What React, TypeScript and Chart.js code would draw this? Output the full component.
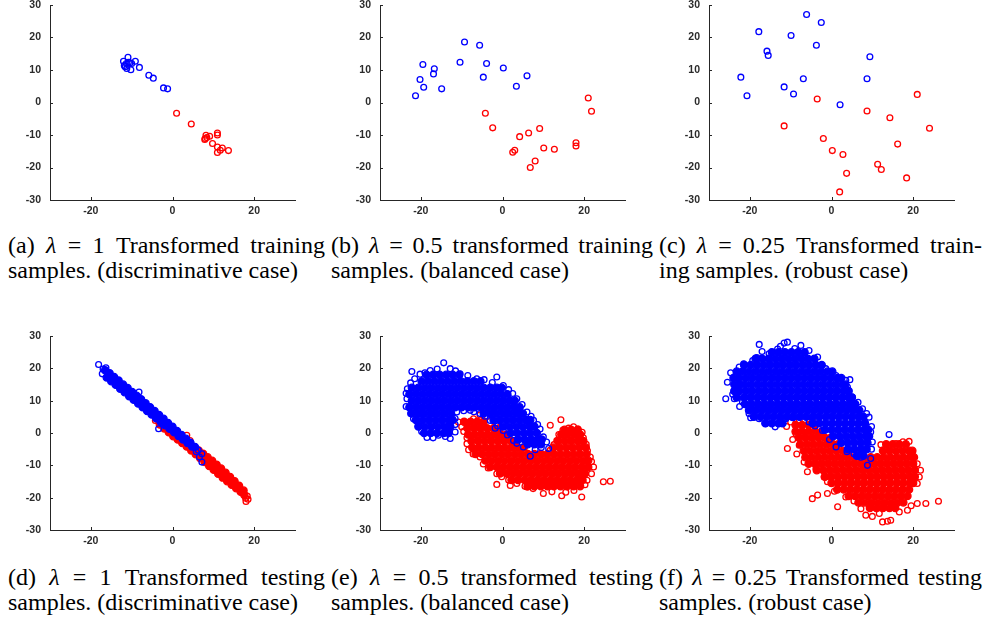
import React, { useEffect, useRef } from 'react';
import { Chart, registerables } from 'chart.js';

Chart.register(...registerables);

type P = [number, number];
type Row = [number, number[]];

// ---------- axis settings ----------
const AXIS_MIN = -30;
const AXIS_MAX = 30;
const X_TICKS = [-20, 0, 20];
const Y_TICKS = [-30, -20, -10, 0, 10, 20, 30];

const BLUE = '#0000ff';
const RED = '#ff0000';
const AXIS_COLOR = '#262626';

// ---------- captions ----------
const CAPTION_TAGS = ['(a)', '(b)', '(c)', '(d)', '(e)', '(f)'];
const CAPTION_LAMBDA = ['1', '0.5', '0.25', '1', '0.5', '0.25'];
const CAPTION_REST1 = [
  'Transformed training',
  'transformed training',
  'Transformed train-',
  'Transformed testing',
  'transformed testing',
  'Transformed testing',
];
const CAPTION_LINE2 = [
  'samples. (discriminative case)',
  'samples. (balanced case)',
  'ing samples. (robust case)',
  'samples. (discriminative case)',
  'samples. (balanced case)',
  'samples. (robust case)',
];

// ---------- (a) training, lambda = 1 ----------
const aBlue: P[] = [
  [-12.0, 12.7], [-10.9, 13.9], [-11.3, 12.0], [-10.4, 12.2], [-10.0, 12.0], [-9.1, 12.7],
  [-11.6, 11.0], [-11.2, 10.5], [-10.2, 10.1], [-8.1, 10.8], [-5.8, 8.4], [-4.7, 7.5],
  [-2.2, 4.5], [-1.2, 4.2], [-11.8, 11.4], [-10.8, 12.4],
];
const aRed: P[] = [
  [1.0, -3.3], [4.6, -6.6], [8.2, -10.1], [8.0, -11.1], [8.4, -10.8], [9.1, -10.4],
  [11.0, -9.4], [11.0, -10.0], [9.8, -12.6], [11.0, -13.7], [12.2, -14.0], [11.7, -14.7],
  [11.0, -15.4], [13.7, -14.8], [7.9, -11.4],
];

// ---------- (b) training, lambda = 0.5 ----------
const bBlue: P[] = [
  [-19.5, 11.7], [-21.3, 2.1], [-20.2, 7.1], [-19.3, 4.7], [-16.7, 10.4], [-16.9, 8.8],
  [-14.9, 4.2], [-10.4, 12.4], [-9.3, 18.6], [-5.6, 17.6], [-3.9, 12.0], [-4.7, 7.8],
  [0.2, 10.6], [3.4, 5.0], [6.0, 8.2],
];
const bRed: P[] = [
  [-4.2, -3.3], [-2.4, -7.8], [2.5, -15.3], [3.0, -14.7], [4.2, -10.5], [6.4, -9.4],
  [9.1, -8.0], [6.8, -20.0], [8.0, -18.0], [10.1, -14.0], [12.7, -14.4], [18.0, -13.4],
  [18.0, -12.4], [21.0, 1.4], [21.8, -2.7],
];

// ---------- (c) training, lambda = 0.25 ----------
const cBlue: P[] = [
  [-17.8, 21.8], [-22.2, 7.8], [-20.7, 2.1], [-15.8, 15.8], [-15.5, 14.5], [-9.9, 20.6],
  [-6.1, 27.1], [-2.5, 24.6], [-3.7, 17.6], [-11.6, 4.8], [-9.3, 2.6], [-6.9, 7.3],
  [2.1, -0.7], [9.4, 14.1], [8.7, 7.3],
];
const cRed: P[] = [
  [-11.6, -7.2], [-3.5, 1.1], [-2.0, -11.1], [0.2, -14.8], [2.8, -16.0], [3.7, -21.8],
  [2.0, -27.5], [8.7, -2.6], [14.3, -4.7], [21.0, 2.5], [24.0, -7.9], [16.2, -12.8],
  [11.3, -19.0], [12.2, -20.6], [18.4, -23.2],
];

// ---------- (d) testing, lambda = 1 ----------
const dBlueCore: P[] = [
  [-16.5, 19.4], [-16.1, 17.2], [-15.4, 18.5], [-15.0, 16.0], [-14.3, 17.3], [-13.9, 14.9],
  [-13.2, 16.2], [-12.8, 13.7], [-12.1, 15.0], [-11.7, 12.6], [-11.0, 13.9], [-10.6, 11.4],
  [-9.9, 12.7], [-9.5, 10.3], [-8.8, 11.5], [-8.4, 9.1], [-7.7, 10.4], [-7.3, 8.0],
  [-6.6, 9.2], [-6.2, 6.8], [-5.5, 8.0], [-5.1, 5.7], [-4.4, 6.8], [-4.0, 4.6],
  [-3.3, 5.6], [-2.9, 3.5], [-2.2, 4.4], [-1.8, 2.4], [-1.1, 3.1], [-0.7, 1.3],
  [0, 1.9], [0.4, 0.2], [1.1, 0.6], [1.5, -0.9], [2.2, -0.6], [2.6, -2.0],
  [3.3, -1.8], [3.7, -3.1], [4.4, -3.0], [4.8, -4.2], [5.5, -4.3],
];
const dBlueRing: P[] = [
  [-18.1, 21.2], [-17.0, 19.8], [-17.2, 18.3], [-16.3, 20.2], [-8.2, 12.7], [-3.4, 1.3],
  [6.3, -5.3], [6.6, -7.4], [7.2, -6.4], [7.2, -9.0], [5.8, -5.8],
];
const dRedCore: P[] = [
  [-3.5, 4.2], [-3.1, 2.6], [-2.4, 3.0], [-2.0, 1.4], [-1.3, 1.8], [-0.9, 0.2],
  [-0.2, 0.6], [0.2, -1.0], [0.9, -0.6], [1.3, -2.0], [2.0, -1.6], [2.4, -3.1],
  [3.1, -2.6], [3.5, -4.2], [4.2, -3.6], [4.6, -5.4], [5.3, -4.6], [5.7, -6.6],
  [6.4, -5.4], [6.8, -7.8], [6.6, -6.5], [7.5, -6.4], [7.9, -9.0], [7.7, -7.7],
  [8.6, -7.5], [9.0, -10.2], [8.8, -8.9], [9.7, -8.6], [10.1, -11.4], [9.9, -10.0],
  [10.8, -9.8], [11.2, -12.6], [11.0, -11.2], [11.9, -11.0], [12.3, -13.8], [12.1, -12.4],
  [13.0, -12.3], [13.4, -14.9], [13.2, -13.6], [14.1, -13.6], [14.5, -16.0], [15.2, -14.9],
  [15.6, -17.1], [16.3, -16.3], [16.7, -18.2], [17.4, -17.8], [17.6, -19.2],
];
const dRedRing: P[] = [
  [3.5, -0.7], [4.3, -2.3], [6.4, -5.9], [18.3, -19.5], [18.0, -21.2], [18.5, -20.5],
  [-4.2, 3.9], [17.9, -20.2],
];

// ---------- (e) testing, lambda = 0.5 ----------
const eBlueCore: Row[] = [
  [18, [-18.6, -17, -15.4, -13.8, -12.2, -10.6]],
  [16, [-19.8, -18.2, -16.6, -15, -13.4, -11.8, -10.2, -8.6, -7, -5.4]],
  [14, [-22.2, -20.6, -19, -17.4, -15.8, -14.2, -12.6, -11, -9.4, -7.8, -6.2, -4.6, -3, -1.4, -0.2]],
  [12, [-22.8, -21.2, -19.6, -18, -16.4, -14.8, -13.2, -11.6, -10, -8.4, -6.8, -5.2, -3.6, -2, -0.4, 1.2]],
  [10, [-22.2, -20.6, -19, -17.4, -15.8, -14.2, -12.6, -11, -9.4, -7.8, -6.2, -4.6, -3, -1.4, 0.2, 1.8, 3.0]],
  [8, [-22.8, -21.2, -19.6, -18, -16.4, -14.8, -13.2, -11.6, -10, -8.4, -6.8, -5.2, -3.6, -2, -0.4, 1.2, 2.8, 4.2]],
  [6, [-22.2, -20.6, -19, -17.4, -15.8, -14.2, -12.6, -4.6, -3, -1.4, 0.2, 1.8, 3.4, 5.0]],
  [4, [-21.2, -19.6, -18, -16.4, -14.8, -13.2, -12.2, -2.2, -0.6, 1, 2.6, 4.2, 5.8, 6.8]],
  [2, [-20.6, -19, -17.4, -15.8, -14.2, -12.8, 0.2, 1.8, 3.4, 5, 6.6, 7.8]],
  [0, [-19.2, -17.6, -16, -14.4, -13.2, 2, 3.6, 5.2, 6.8, 8.4]],
  [-2, [3.8, 5.4, 7, 8.6, 9.6]],
  [-3.5, [6.2, 7.8, 9.4]],
];
const eBlueRing: P[] = [
  [-22.2, 19.0], [-14.4, 21.7], [-17.7, 19.3], [-16, 19.8], [-12.8, 19.9], [-11.5, 19.2],
  [-10.4, 18.3], [-8.5, 17.8], [-6.3, 16.8], [-4.5, 16.5], [-1.4, 17.3], [-2.5, 15.6],
  [0.2, 14.7], [1.5, 13.4], [2.5, 12.2], [3.5, 10.6], [4.8, 8.8], [6.0, 6.5], [7.0, 5.2],
  [7.6, 3.9], [8.6, 2.6], [9.2, 1.2], [10, -1.2], [10.8, -2.8], [11.3, -4.8], [9.5, -4.5],
  [8, -5.2], [6.8, -7.2], [5.1, -4.3], [3.5, -3.2], [2.7, -2.3], [1.2, -0.6], [0.2, 0.8],
  [-1.2, 2.2], [-3.0, 3.9], [-4.3, 5.2], [-5.5, 6.0], [-7, 6.6], [-7.9, 7.0], [-9.5, 6.9],
  [-11.2, 6.5], [-11.6, 4.5], [-11.6, 2.6], [-11.6, 0.3], [-12.8, -1.7], [-14, -1.1],
  [-15.7, -0.7], [-17, -1.5], [-18.5, -1.4], [-19.8, 0.5], [-20.5, 2.2], [-21.8, 4.4],
  [-22.5, 6], [-23.6, 8.2], [-23.4, 10.6], [-23.6, 12.3], [-23.3, 13.7], [-22.5, 15.5],
  [-21.5, 16.8], [-20.2, 18.2], [-19, 18.6], [-1.8, 1.5],
];
const eRedCore: Row[] = [
  [3.5, [-9.4, -7.8, -6.2, -4.6]],
  [1.5, [-8.6, -7, -5.4, -3.8, -2.2, -0.8]],
  [1, [15.2, 16.8, 18.4]],
  [-0.5, [-8.4, -6.8, -5.2, -3.6, -2, -0.4, 1.0, 14.4, 16, 17.6, 19]],
  [-2.5, [-7.6, -6, -4.4, -2.8, -1.2, 0.4, 2, 3.2, 13.6, 15.2, 16.8, 18.4, 19.8]],
  [-4.5, [-7.4, -5.8, -4.2, -2.6, -1, 0.6, 2.2, 3.8, 5.2, 12.4, 14, 15.6, 17.2, 18.8, 20.4]],
  [-6.5, [-6.6, -5, -3.4, -1.8, -0.2, 1.4, 3, 4.6, 6.2, 7.8, 9.4, 11, 12.6, 14.2, 15.8, 17.4, 19, 20.6]],
  [-8.5, [-4.2, -2.6, -1, 0.6, 2.2, 3.8, 5.4, 7, 8.6, 10.2, 11.8, 13.4, 15, 16.6, 18.2, 19.8, 21]],
  [-10.5, [-3, -1.4, 0.2, 1.8, 3.4, 5, 6.6, 8.2, 9.8, 11.4, 13, 14.6, 16.2, 17.8, 19.4, 21]],
  [-12.5, [-0.6, 1, 2.6, 4.2, 5.8, 7.4, 9, 10.6, 12.2, 13.8, 15.4, 17, 18.6, 20.2]],
  [-14.5, [2.2, 3.8, 5.4, 7, 8.6, 10.2, 11.8, 13.4, 15, 16.6, 18.2, 19.6]],
  [-16.5, [6.2, 7.8, 9.4, 11, 12.6, 14.2, 15.8, 17.4, 19]],
];
const eRedRing: P[] = [
  [-10.8, 3.4], [-10, 1.9], [-9.5, 0.5], [-8.7, -1.5], [-8.7, -3.3], [-8.3, -5.2],
  [-7.2, -6.5], [-5.5, -7.4], [-4.7, -9.6], [-3.5, -10.8], [-1.4, -12.6], [-0.2, -13.5],
  [1.5, -14.5], [3.5, -15.6], [5.5, -16.5], [-1.4, -15.9], [1.9, -16.2], [6, -16.7],
  [7.5, -17.2], [10, -18.7], [12.1, -18.2], [14.5, -19.4], [15.5, -18.3], [17.5, -17.8],
  [19.4, -19.8], [20.2, -16], [20.7, -14.6], [21.8, -12.6], [22.3, -10.5], [21.8, -8.8],
  [21.5, -7.4], [20.8, -5.5], [20.5, -3.5], [19.8, -1.5], [19.5, 0.2], [18.5, 1.2],
  [17.4, 1.9], [16.2, 1.5], [14.8, 0.9], [13.8, -0.5], [13.3, -2.3], [12.6, -3.6],
  [11.7, -5.3], [11.7, 2.4], [14.3, 4.1], [24.7, -15.1], [26.4, -14.9], [-7.1, 4.4],
  [-5.5, 5.6], [-3.8, 5.1],
];

// ---------- (f) testing, lambda = 0.25 ----------
const fBlueCore: Row[] = [
  [25, [-14.6, -13, -11.4, -9.8, -8.2, -6.6]],
  [23, [-18.6, -17, -15.4, -13.8, -12.2, -10.6, -9, -7.4, -5.8, -4.2]],
  [21, [-21.4, -19.8, -18.2, -16.6, -15, -13.4, -11.8, -10.2, -8.6, -7, -5.4, -3.8, -2.4]],
  [19, [-23.2, -21.8, -20.2, -18.6, -17, -15.4, -13.8, -12.2, -10.6, -9, -7.4, -5.8, -4.2, -2.6, -1, 0.2]],
  [17, [-24, -22.6, -21, -19.4, -17.8, -16.2, -14.6, -13, -11.4, -9.8, -8.2, -6.6, -5, -3.4, -1.8, -0.2, 1.4, 2.4]],
  [15, [-23.8, -22.6, -21.4, -19.8, -18.2, -16.6, -15, -13.4, -11.8, -10.2, -8.6, -7, -5.4, -3.8, -2.2, -0.6, 1, 2.6, 3.4]],
  [13, [-23.8, -22.6, -21, -19.4, -17.8, -16.2, -14.6, -13, -11.4, -9.8, -8.2, -6.6, -5, -3.4, -1.8, -0.2, 1.4, 3, 4.2]],
  [11, [-23.2, -21.4, -19.8, -18.2, -16.6, -15, -13.4, -11.8, -10.2, -8.6, -7, -5.4, -3.8, -2.2, -0.6, 1, 2.6, 4.2, 5]],
  [9, [-21.2, -19.6, -18, -16.4, -14.8, -13.2, -11.6, -10, -8.4, -6.8, -5.2, -3.6, -2, -0.4, 1.2, 2.8, 4.4, 5.8]],
  [7, [-20.2, -18.6, -17, -15.4, -13.8, -12.2, -10.6, -9, -7.4, -5.8, -4.2, -2.6, -1, 0.6, 2.2, 3.8, 5.4, 6.8]],
  [5, [-19, -17.4, -15.8, -14.2, -12.6, -11, -9.4, -7.8, -6.2, -4.6, -3, -1.4, 0.2, 1.8, 3.4, 5, 6.6, 7.8]],
  [3, [-16.2, -14.6, -13, -12, -4.6, -3, -1.4, 0.2, 1.8, 3.4, 5, 6.6, 8.2]],
  [1, [-1.6, 0, 1.6, 3.2, 4.8, 6.4, 8, 9]],
  [-1, [0.4, 2, 3.6, 5.2, 6.8, 8.4, 9.2]],
  [-3, [2.4, 4, 5.6, 7.2, 8.8]],
  [-5, [4, 5.6, 7.2, 8.6]],
  [-7, [6.2, 7.8]],
];
const fBlueRing: P[] = [
  [-17.7, 27.4], [-11.6, 27.8], [-10.8, 28.1], [-7.5, 27.1], [-13.2, 26.0], [-15.3, 24.5],
  [-12.5, 26.8], [-17, 25.2], [-19.3, 22.4], [-21.5, 21.4], [-18.3, 23.3], [-22.6, 20.4],
  [-24.7, 18.6], [-25.5, 15.7], [-25.9, 10.6], [-23.8, 10.6], [-23.6, 13.7], [-24.2, 12],
  [-21.8, 9.6], [-22.5, 8.2], [-20.2, 6.0], [-19.8, 4.7], [-17.7, 4.4], [-16.1, 2.9],
  [-13.8, 1.9], [-12.8, 2.9], [-11.2, 4.4], [-9.5, 4.7], [-3.4, 23.5], [-5.5, 25.5],
  [-9, 26.1], [-1.4, 19.9], [1.1, 17.8], [3.5, 16.3], [4.5, 16.5], [3.9, 14.2], [5.1, 11.1],
  [6.5, 9.5], [7.6, 7.5], [8.6, 6.0], [9.2, 4.9], [9.8, 2.0], [9.6, 0.3], [10, -2.8],
  [9.8, -5.0], [9.6, -7.9], [8.8, -10], [7.2, -7.5], [5.5, -6.4], [3.8, -5.8], [1.1, -4.3],
  [-0.5, -2.0], [-2.2, 0.8], [-4, 2.2], [-5.5, 3.4], [-7.9, 4.9], [14.1, -0.5],
];
const fRedCore: Row[] = [
  [2.5, [-8.8, -7.2, -5.6, -4.2]],
  [0.5, [-8.8, -7.2, -5.6, -4, -2.4]],
  [-1.5, [-8, -6.4, -4.8, -3.2, -1.6, -0.2]],
  [-3.5, [-7.6, -6, -4.4, -2.8, -1.2, 0.4, 1.6, 13.4, 15, 16.6, 18.2]],
  [-5.5, [-6.8, -5.2, -3.6, -2, -0.4, 1.2, 2.8, 4, 12.6, 14.2, 15.8, 17.4, 19, 19.8]],
  [-7.5, [-6.4, -4.8, -3.2, -1.6, 0, 1.6, 3.2, 4.8, 6.4, 8, 9.6, 11.2, 12.8, 14.4, 16, 17.6, 19.2, 20.2]],
  [-9.5, [-5.6, -4, -2.4, -0.8, 0.8, 2.4, 4, 5.6, 7.2, 8.8, 10.4, 12, 13.6, 15.2, 16.8, 18.4, 20]],
  [-11.5, [-3.6, -2, -0.4, 1.2, 2.8, 4.4, 6, 7.6, 9.2, 10.8, 12.4, 14, 15.6, 17.2, 18.8, 20.4]],
  [-13.5, [-1.6, 0, 1.6, 3.2, 4.8, 6.4, 8, 9.6, 11.2, 12.8, 14.4, 16, 17.6, 19.2, 20.4]],
  [-15.5, [0, 1.6, 3.2, 4.8, 6.4, 8, 9.6, 11.2, 12.8, 14.4, 16, 17.6, 19.2, 20]],
  [-17.5, [1.4, 3, 4.6, 6.2, 7.8, 9.4, 11, 12.6, 14.2, 15.8, 17.4, 19]],
  [-19.5, [4.2, 5.8, 7.4, 9, 10.6, 12.2, 13.8, 15.4, 17, 18.6]],
  [-21.5, [6.6, 8.2, 9.8, 11.4, 13, 14.6, 16.2, 17.6]],
  [-23.2, [9.4, 11, 12.6, 14.2, 15.6]],
];
const fRedRing: P[] = [
  [-10, 3.4], [-7.9, 3.9], [-4.7, 3.9], [-11, 2], [-10.8, -4.8], [-8.7, -0.2], [-9.5, -2],
  [-7.9, -3.8], [-8.5, -6.5], [-6.7, -9], [-5.9, -12], [-3.8, -11], [-1.8, -13.6],
  [-1, -15.1], [-4.7, -20.3], [-3.4, -19.2], [-1, -18.7], [0.7, -18], [1.5, -22.8],
  [3.5, -19.8], [5.5, -21], [7.2, -23.4], [8.4, -25.4], [11.7, -24.9], [12.5, -27.5],
  [13.7, -27.3], [14.5, -27], [10, -25.8], [16.6, -24.4], [18.6, -23.9], [19.5, -22.5],
  [21, -21.8], [23.1, -21.8], [26.2, -21.1], [21, -15.6], [21.5, -13.6], [21.8, -11.5],
  [21, -9.5], [19.8, -5.9], [19, -2.6], [17.5, -2.7], [15.8, -3.3], [14, -3.8], [12.1, -3.6],
];

// ---------- helpers ----------
const rows = (r: Row[]): P[] => r.flatMap(([y, xs]) => xs.map((x) => [x, y] as P));

type SetDef = { pts: P[]; color: string; filled: boolean };
type PanelDef = { left: number; top: number; h: number; sets: SetDef[] };

const ring = (pts: P[], color: string): SetDef => ({ pts, color, filled: false });
const core = (pts: P[], color: string): SetDef => ({ pts, color, filled: true });

const TOP_Y = 5;
const BOT_Y = 336;
const COL_X = [50, 380, 709];

const PANELS: PanelDef[] = [
  { left: COL_X[0], top: TOP_Y, h: 195, sets: [ring(aBlue, BLUE), ring(aRed, RED)] },
  { left: COL_X[1], top: TOP_Y, h: 195, sets: [ring(bBlue, BLUE), ring(bRed, RED)] },
  { left: COL_X[2], top: TOP_Y, h: 195, sets: [ring(cBlue, BLUE), ring(cRed, RED)] },
  {
    left: COL_X[0], top: BOT_Y, h: 194,
    sets: [ring(dBlueRing, BLUE), core(dBlueCore, BLUE), ring(dRedRing, RED), core(dRedCore, RED)],
  },
  {
    left: COL_X[1], top: BOT_Y, h: 194,
    sets: [ring(eBlueRing, BLUE), core(rows(eBlueCore), BLUE), ring(eRedRing, RED), core(rows(eRedCore), RED)],
  },
  {
    left: COL_X[2], top: BOT_Y, h: 194,
    sets: [ring(fBlueRing, BLUE), core(rows(fBlueCore), BLUE), ring(fRedRing, RED), core(rows(fRedCore), RED)],
  },
];

// distances from the canvas edges to the plot rectangle
const Y_AXIS_W = 45;
const X_AXIS_H = 22;
const PAD_L = 49;
const PAD_R = 12;
const PAD_T = 20;
const PAD_B = 26;
const PLOT_W = 245;

const TICK_FONT = { family: '"Liberation Sans", Arial, Helvetica, sans-serif', size: 10.5, weight: 'bold' as const };

const inwardTicks = {
  id: 'inwardTicks',
  afterDraw(chart: any) {
    const { ctx, chartArea, scales } = chart;
    ctx.save();
    ctx.strokeStyle = AXIS_COLOR;
    ctx.lineWidth = 1;
    ctx.beginPath();
    for (const v of X_TICKS) {
      const px = Math.round(scales.x.getPixelForValue(v)) + 0.5;
      ctx.moveTo(px, chartArea.bottom);
      ctx.lineTo(px, chartArea.bottom - 3);
    }
    for (const v of Y_TICKS) {
      const py = Math.round(scales.y.getPixelForValue(v)) + 0.5;
      ctx.moveTo(chartArea.left, py);
      ctx.lineTo(chartArea.left + 3, py);
    }
    ctx.stroke();
    ctx.restore();
  },
};

function Panel({ def }: { def: PanelDef }) {
  const ref = useRef<HTMLCanvasElement | null>(null);
  const W = PLOT_W + PAD_L + PAD_R;
  const H = def.h + PAD_T + PAD_B;
  useEffect(() => {
    if (!ref.current) return;
    const pad = { left: PAD_L - Y_AXIS_W, top: PAD_T, right: PAD_R, bottom: PAD_B - X_AXIS_H };
    const chart = new Chart(ref.current, {
      type: 'scatter',
      data: {
        datasets: def.sets.map((s) => ({
          data: s.pts.map(([x, y]) => ({ x, y })),
          pointRadius: s.filled ? 3.6 : 2.9,
          pointHoverRadius: s.filled ? 3.6 : 2.9,
          borderWidth: 1.3,
          borderColor: s.color,
          backgroundColor: s.filled ? s.color : 'rgba(0,0,0,0)',
          showLine: false,
        })),
      },
      options: {
        responsive: false,
        animation: false,
        events: [],
        layout: { padding: { ...pad } },
        plugins: { legend: { display: false }, tooltip: { enabled: false } },
        scales: {
          x: {
            type: 'linear',
            min: AXIS_MIN,
            max: AXIS_MAX,
            grid: { display: false, drawTicks: false },
            border: { display: true, color: AXIS_COLOR, width: 1 },
            ticks: { font: TICK_FONT, color: '#2b2b2b', padding: 5, maxRotation: 0 },
            afterBuildTicks: (s: any) => {
              s.ticks = X_TICKS.map((v) => ({ value: v }));
            },
            afterFit: (s: any) => {
              s.height = X_AXIS_H;
            },
          },
          y: {
            type: 'linear',
            min: AXIS_MIN,
            max: AXIS_MAX,
            grid: { display: false, drawTicks: false },
            border: { display: true, color: AXIS_COLOR, width: 1 },
            ticks: { font: TICK_FONT, color: '#2b2b2b', padding: 9 },
            afterBuildTicks: (s: any) => {
              s.ticks = Y_TICKS.map((v) => ({ value: v }));
            },
            afterFit: (s: any) => {
              s.width = Y_AXIS_W;
            },
          },
        },
      },
      plugins: [inwardTicks],
    } as any);
    // make the plotted range land exactly on the wanted rectangle
    for (let k = 0; k < 4; k++) {
      const ys: any = chart.scales.y;
      const xs: any = chart.scales.x;
      const top = ys.getPixelForValue(AXIS_MAX);
      const bottom = ys.getPixelForValue(AXIS_MIN);
      const left = xs.getPixelForValue(AXIS_MIN);
      const right = xs.getPixelForValue(AXIS_MAX);
      const dt = PAD_T - top;
      const db = bottom - (H - PAD_B);
      const dl = PAD_L - left;
      const dr = right - (W - PAD_R);
      if (Math.abs(dt) + Math.abs(db) + Math.abs(dl) + Math.abs(dr) < 0.2) break;
      pad.top += dt;
      pad.bottom += db;
      pad.left += dl;
      pad.right += dr;
      (chart.config.options as any).layout = { padding: { ...pad } };
      chart.update();
    }
    return () => chart.destroy();
  }, [def]);
  return (
    <canvas
      ref={ref}
      width={W}
      height={H}
      style={{ position: 'absolute', left: def.left - PAD_L, top: def.top - PAD_T, width: W, height: H }}
    />
  );
}

const CAP_LEFT = [8, 331, 659];
const CAP_WIDTH = [317, 322, 323];
const CAP_TOP = [233, 565];

function Caption({ i }: { i: number }) {
  const col = i % 3;
  const row = Math.floor(i / 3);
  const base: React.CSSProperties = {
    position: 'absolute',
    left: CAP_LEFT[col],
    width: CAP_WIDTH[col],
    fontFamily: '"Liberation Serif", "Times New Roman", Times, serif',
    fontSize: 24,
    lineHeight: '25px',
    color: '#000',
  };
  return (
    <>
      <div style={{ ...base, top: CAP_TOP[row], textAlign: 'justify', textAlignLast: 'justify' }}>
        {CAPTION_TAGS[i]} <i>λ</i> = {CAPTION_LAMBDA[i]} {CAPTION_REST1[i]}
      </div>
      <div style={{ ...base, top: CAP_TOP[row] + 25, whiteSpace: 'nowrap' }}>{CAPTION_LINE2[i]}</div>
    </>
  );
}

export default function App() {
  return (
    <div style={{ position: 'fixed', left: 0, top: 0, width: 987, height: 620, background: '#fff', overflow: 'hidden' }}>
      {PANELS.map((p, i) => (
        <Panel key={i} def={p} />
      ))}
      {CAPTION_TAGS.map((_, i) => (
        <Caption key={i} i={i} />
      ))}
    </div>
  );
}
